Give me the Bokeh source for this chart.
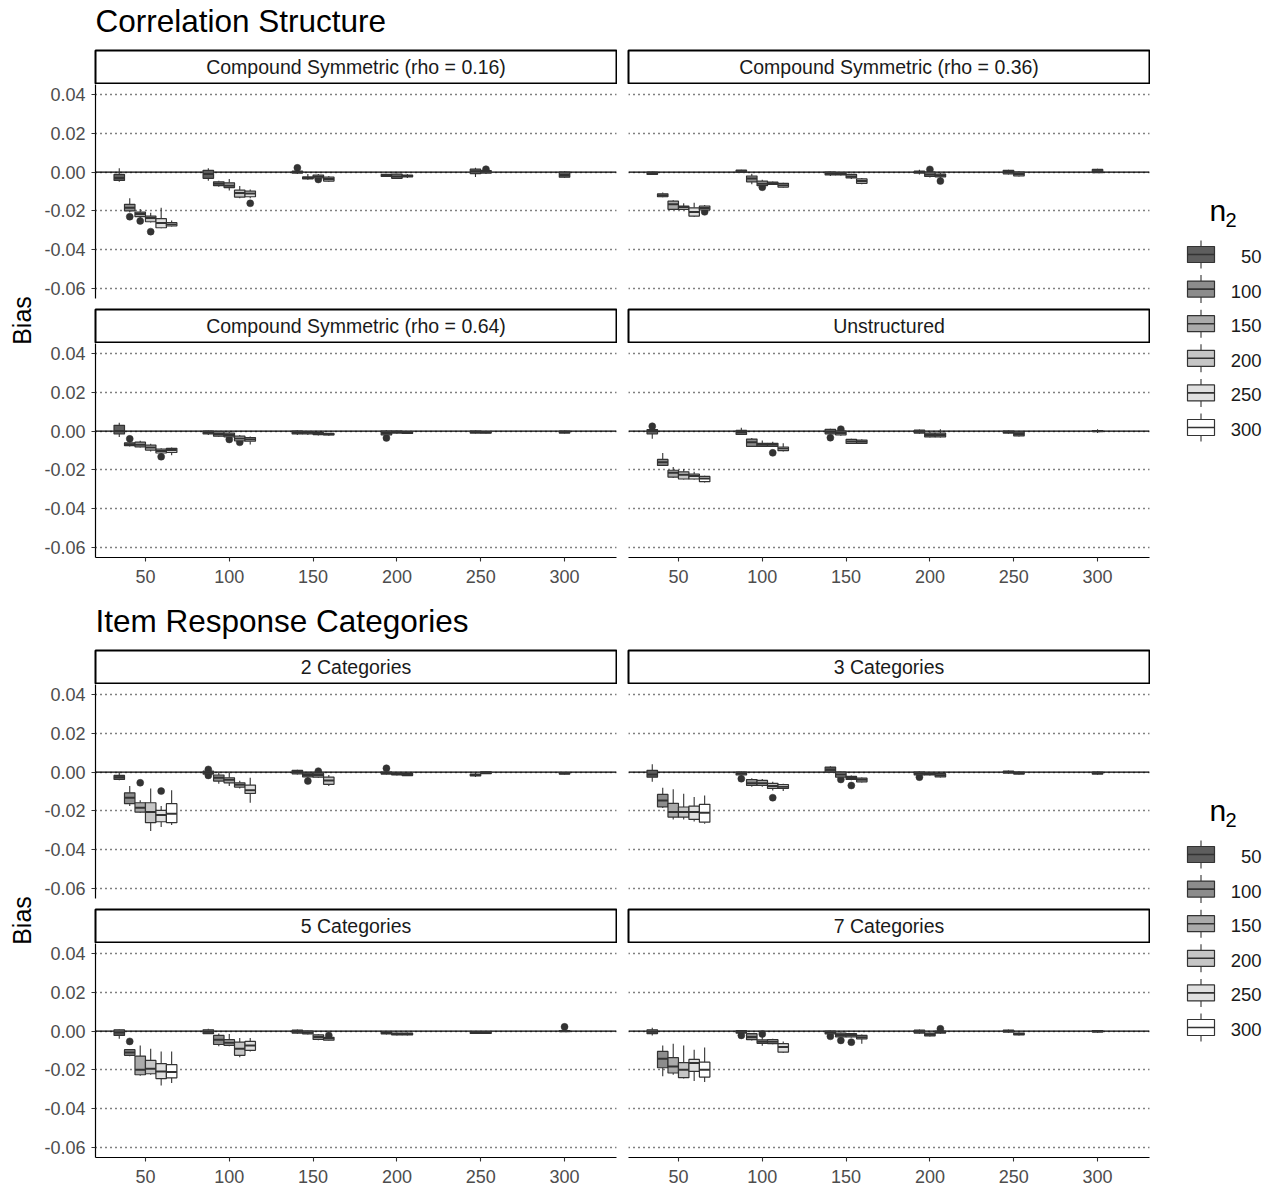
import math
from bokeh.plotting import figure
from bokeh.layouts import row, column
from bokeh.models import Range1d, FixedTicker, PrintfTickFormatter, Span, Grid, ColumnDataSource
from bokeh.core.properties import value
from bokeh.embed import file_html
from bokeh.resources import INLINE

# ---------------- data ----------------
N1 = [50, 100, 150, 200, 250, 300]
N2 = [50, 100, 150, 200, 250, 300]
N2_LABELS = ["50", "100", "150", "200", "250", "300"]
FILLS = ["#5e5e5e", "#8c8c8c", "#aaaaaa", "#c6c6c6", "#e0e0e0", "#ffffff"]
Y_TICKS = [-0.06, -0.04, -0.02, 0.0, 0.02, 0.04]
X_TICKS = [50, 100, 150, 200, 250, 300]

SECTION_TITLES = ["Correlation Structure", "Item Response Categories"]
FACET_LABELS = [
    ["Compound Symmetric (rho = 0.16)", "Compound Symmetric (rho = 0.36)",
     "Compound Symmetric (rho = 0.64)", "Unstructured"],
    ["2 Categories", "3 Categories", "5 Categories", "7 Categories"],
]

# each box: (lower whisker, q1, median, q3, upper whisker); order n1 then n2 (n1 + n2 <= 350)
CS016 = [
    (-0.0050, -0.0043, -0.0030, -0.0012, 0.0020),
    (-0.0207, -0.0200, -0.0184, -0.0166, -0.0135),
    (-0.0240, -0.0230, -0.0216, -0.0206, -0.0190),
    (-0.0260, -0.0256, -0.0237, -0.0227, -0.0210),
    (-0.0290, -0.0287, -0.0263, -0.0240, -0.0184),
    (-0.0280, -0.0278, -0.0270, -0.0261, -0.0250),
    (-0.0045, -0.0032, -0.0010, 0.0009, 0.0020),
    (-0.0075, -0.0070, -0.0060, -0.0050, -0.0045),
    (-0.0095, -0.0080, -0.0070, -0.0055, -0.0036),
    (-0.0135, -0.0129, -0.0108, -0.0093, -0.0072),
    (-0.0135, -0.0127, -0.0110, -0.0098, -0.0090),
    (-0.0010, -0.0005, 0.0000, 0.0005, 0.0010),
    (-0.0040, -0.0035, -0.0030, -0.0025, -0.0010),
    (-0.0035, -0.0030, -0.0022, -0.0015, -0.0010),
    (-0.0050, -0.0046, -0.0036, -0.0026, -0.0020),
    (-0.0025, -0.0022, -0.0017, -0.0012, -0.0010),
    (-0.0035, -0.0032, -0.0022, -0.0010, -0.0008),
    (-0.0030, -0.0025, -0.0020, -0.0015, -0.0010),
    (-0.0025, -0.0008, 0.0005, 0.0015, 0.0022),
    (-0.0010, -0.0005, 0.0002, 0.0008, 0.0010),
    (-0.0030, -0.0026, -0.0015, 0.0000, 0.0005),
]
CS016_OUT = [(50, 100, -0.0230), (50, 150, -0.0252), (50, 200, -0.0307), (100, 250, -0.0161),
             (150, 50, 0.0022), (150, 150, -0.0038), (250, 100, 0.0015)]

CS036 = [
    (-0.0015, -0.0012, -0.0005, 0.0000, 0.0003),
    (-0.0130, -0.0127, -0.0120, -0.0112, -0.0105),
    (-0.0195, -0.0192, -0.0166, -0.0150, -0.0145),
    (-0.0195, -0.0192, -0.0180, -0.0175, -0.0160),
    (-0.0230, -0.0227, -0.0206, -0.0184, -0.0158),
    (-0.0198, -0.0195, -0.0185, -0.0175, -0.0170),
    (-0.0002, 0.0000, 0.0005, 0.0010, 0.0012),
    (-0.0062, -0.0050, -0.0033, -0.0020, -0.0009),
    (-0.0075, -0.0070, -0.0060, -0.0046, -0.0040),
    (-0.0066, -0.0063, -0.0058, -0.0052, -0.0048),
    (-0.0080, -0.0077, -0.0068, -0.0058, -0.0055),
    (-0.0020, -0.0015, -0.0008, 0.0000, 0.0003),
    (-0.0018, -0.0015, -0.0010, -0.0003, 0.0000),
    (-0.0035, -0.0030, -0.0022, -0.0012, -0.0008),
    (-0.0062, -0.0058, -0.0046, -0.0035, -0.0030),
    (-0.0012, -0.0005, 0.0000, 0.0005, 0.0012),
    (-0.0028, -0.0022, -0.0012, 0.0000, 0.0005),
    (-0.0030, -0.0025, -0.0018, -0.0010, -0.0005),
    (-0.0012, -0.0009, 0.0000, 0.0009, 0.0012),
    (-0.0023, -0.0020, -0.0010, 0.0000, 0.0003),
    (-0.0005, -0.0003, 0.0005, 0.0014, 0.0018),
]
CS036_OUT = [(50, 300, -0.0205), (100, 150, -0.0078), (200, 100, 0.0014), (200, 150, -0.0046)]

CS064 = [
    (-0.0030, -0.0015, 0.0000, 0.0030, 0.0043),
    (-0.0080, -0.0075, -0.0068, -0.0060, -0.0055),
    (-0.0085, -0.0081, -0.0070, -0.0057, -0.0050),
    (-0.0105, -0.0098, -0.0085, -0.0072, -0.0065),
    (-0.0118, -0.0113, -0.0103, -0.0093, -0.0088),
    (-0.0124, -0.0110, -0.0098, -0.0089, -0.0085),
    (-0.0020, -0.0015, -0.0008, 0.0000, 0.0003),
    (-0.0030, -0.0026, -0.0015, -0.0003, 0.0000),
    (-0.0035, -0.0030, -0.0020, -0.0010, -0.0005),
    (-0.0053, -0.0050, -0.0038, -0.0026, -0.0020),
    (-0.0069, -0.0052, -0.0042, -0.0033, -0.0028),
    (-0.0020, -0.0015, -0.0008, 0.0000, 0.0004),
    (-0.0020, -0.0015, -0.0009, -0.0003, 0.0000),
    (-0.0022, -0.0018, -0.0013, -0.0008, -0.0005),
    (-0.0024, -0.0020, -0.0016, -0.0012, -0.0010),
    (-0.0025, -0.0020, -0.0010, 0.0000, 0.0005),
    (-0.0013, -0.0010, -0.0005, 0.0000, 0.0003),
    (-0.0015, -0.0012, -0.0008, -0.0003, 0.0000),
    (-0.0012, -0.0010, -0.0005, 0.0000, 0.0003),
    (-0.0012, -0.0010, -0.0006, -0.0002, 0.0000),
    (-0.0012, -0.0010, -0.0005, 0.0000, 0.0003),
]
CS064_OUT = [(50, 100, -0.0040), (50, 250, -0.0132), (100, 150, -0.0043), (100, 200, -0.0058),
             (200, 50, -0.0035)]

UNSTR = [
    (-0.0040, -0.0015, 0.0000, 0.0008, 0.0015),
    (-0.0180, -0.0177, -0.0160, -0.0146, -0.0113),
    (-0.0240, -0.0237, -0.0215, -0.0202, -0.0185),
    (-0.0250, -0.0247, -0.0225, -0.0210, -0.0195),
    (-0.0250, -0.0247, -0.0232, -0.0222, -0.0210),
    (-0.0265, -0.0261, -0.0245, -0.0234, -0.0230),
    (-0.0020, -0.0017, -0.0005, 0.0004, 0.0018),
    (-0.0082, -0.0079, -0.0058, -0.0041, -0.0035),
    (-0.0082, -0.0079, -0.0070, -0.0063, -0.0048),
    (-0.0082, -0.0079, -0.0070, -0.0063, -0.0055),
    (-0.0105, -0.0101, -0.0090, -0.0082, -0.0063),
    (-0.0018, -0.0014, -0.0003, 0.0009, 0.0012),
    (-0.0024, -0.0020, -0.0010, 0.0000, 0.0002),
    (-0.0066, -0.0064, -0.0053, -0.0043, -0.0040),
    (-0.0066, -0.0064, -0.0055, -0.0046, -0.0042),
    (-0.0013, -0.0010, -0.0002, 0.0005, 0.0008),
    (-0.0033, -0.0030, -0.0020, -0.0010, -0.0005),
    (-0.0033, -0.0030, -0.0020, -0.0010, 0.0010),
    (-0.0013, -0.0010, -0.0005, 0.0000, 0.0003),
    (-0.0028, -0.0025, -0.0015, -0.0005, -0.0002),
    (-0.0010, -0.0003, 0.0000, 0.0003, 0.0010),
]
UNSTR_OUT = [(50, 50, 0.0025), (100, 200, -0.0112), (150, 50, -0.0034), (150, 100, 0.0010)]

CAT2 = [
    (-0.0042, -0.0038, -0.0027, -0.0017, 0.0000),
    (-0.0175, -0.0163, -0.0132, -0.0107, -0.0072),
    (-0.0210, -0.0206, -0.0184, -0.0158, -0.0145),
    (-0.0304, -0.0261, -0.0206, -0.0158, -0.0084),
    (-0.0283, -0.0256, -0.0221, -0.0197, -0.0175),
    (-0.0273, -0.0261, -0.0215, -0.0163, -0.0094),
    (-0.0012, -0.0010, -0.0003, 0.0005, 0.0008),
    (-0.0060, -0.0046, -0.0029, -0.0015, -0.0005),
    (-0.0072, -0.0055, -0.0040, -0.0029, -0.0005),
    (-0.0085, -0.0077, -0.0065, -0.0055, -0.0045),
    (-0.0158, -0.0110, -0.0093, -0.0067, -0.0029),
    (-0.0012, -0.0009, 0.0000, 0.0009, 0.0012),
    (-0.0030, -0.0025, -0.0015, -0.0005, 0.0000),
    (-0.0030, -0.0026, -0.0015, -0.0005, -0.0002),
    (-0.0072, -0.0063, -0.0043, -0.0026, -0.0015),
    (-0.0012, -0.0010, -0.0005, 0.0000, 0.0003),
    (-0.0018, -0.0015, -0.0010, -0.0005, -0.0002),
    (-0.0020, -0.0018, -0.0012, -0.0006, -0.0003),
    (-0.0025, -0.0020, -0.0015, -0.0010, -0.0005),
    (-0.0010, -0.0008, -0.0003, 0.0002, 0.0005),
    (-0.0012, -0.0010, -0.0006, -0.0002, 0.0000),
]
CAT2_OUT = [(50, 150, -0.0055), (50, 250, -0.0098), (100, 50, 0.0014), (100, 50, -0.0017),
            (150, 100, -0.0046), (150, 150, 0.0005), (200, 50, 0.0020)]

CAT3 = [
    (-0.0050, -0.0026, -0.0012, 0.0009, 0.0040),
    (-0.0185, -0.0179, -0.0146, -0.0115, -0.0081),
    (-0.0245, -0.0232, -0.0206, -0.0161, -0.0089),
    (-0.0245, -0.0232, -0.0206, -0.0180, -0.0112),
    (-0.0255, -0.0244, -0.0206, -0.0175, -0.0129),
    (-0.0266, -0.0258, -0.0210, -0.0166, -0.0120),
    (-0.0020, -0.0015, -0.0006, 0.0000, 0.0003),
    (-0.0075, -0.0069, -0.0058, -0.0038, -0.0031),
    (-0.0075, -0.0069, -0.0058, -0.0043, -0.0035),
    (-0.0095, -0.0084, -0.0072, -0.0058, -0.0050),
    (-0.0098, -0.0084, -0.0075, -0.0064, -0.0060),
    (-0.0003, 0.0000, 0.0012, 0.0026, 0.0030),
    (-0.0030, -0.0026, -0.0012, 0.0000, 0.0003),
    (-0.0042, -0.0038, -0.0030, -0.0022, -0.0018),
    (-0.0053, -0.0050, -0.0040, -0.0031, -0.0028),
    (-0.0018, -0.0015, -0.0007, 0.0000, 0.0003),
    (-0.0018, -0.0015, -0.0010, -0.0005, -0.0002),
    (-0.0028, -0.0025, -0.0016, -0.0008, -0.0005),
    (-0.0008, -0.0005, 0.0000, 0.0005, 0.0008),
    (-0.0012, -0.0010, -0.0005, 0.0000, 0.0003),
    (-0.0013, -0.0010, -0.0005, 0.0000, 0.0003),
]
CAT3_OUT = [(100, 50, -0.0034), (100, 200, -0.0132), (150, 100, -0.0038), (150, 150, -0.0069),
            (200, 50, -0.0026)]

CAT5 = [
    (-0.0039, -0.0022, -0.0007, 0.0007, 0.0010),
    (-0.0130, -0.0125, -0.0110, -0.0096, -0.0092),
    (-0.0230, -0.0225, -0.0199, -0.0129, -0.0074),
    (-0.0225, -0.0220, -0.0194, -0.0151, -0.0091),
    (-0.0280, -0.0245, -0.0208, -0.0168, -0.0105),
    (-0.0268, -0.0241, -0.0211, -0.0173, -0.0105),
    (-0.0015, -0.0013, -0.0003, 0.0007, 0.0012),
    (-0.0078, -0.0069, -0.0044, -0.0022, -0.0012),
    (-0.0078, -0.0074, -0.0060, -0.0044, -0.0015),
    (-0.0135, -0.0125, -0.0091, -0.0057, -0.0035),
    (-0.0105, -0.0099, -0.0074, -0.0053, -0.0035),
    (-0.0013, -0.0010, -0.0002, 0.0005, 0.0008),
    (-0.0018, -0.0015, -0.0008, 0.0000, 0.0003),
    (-0.0047, -0.0043, -0.0030, -0.0019, -0.0015),
    (-0.0050, -0.0047, -0.0038, -0.0032, -0.0030),
    (-0.0018, -0.0015, -0.0010, -0.0005, -0.0002),
    (-0.0023, -0.0020, -0.0015, -0.0010, -0.0007),
    (-0.0023, -0.0020, -0.0015, -0.0010, -0.0007),
    (-0.0015, -0.0012, -0.0008, -0.0004, -0.0002),
    (-0.0015, -0.0012, -0.0008, -0.0004, -0.0002),
    (-0.0005, -0.0003, 0.0000, 0.0003, 0.0005),
]
CAT5_OUT = [(50, 100, -0.0053), (150, 200, -0.0022), (300, 50, 0.0022)]

CAT7 = [
    (-0.0022, -0.0013, -0.0003, 0.0007, 0.0017),
    (-0.0233, -0.0189, -0.0142, -0.0105, -0.0074),
    (-0.0225, -0.0216, -0.0182, -0.0137, -0.0065),
    (-0.0245, -0.0240, -0.0199, -0.0163, -0.0074),
    (-0.0257, -0.0208, -0.0164, -0.0146, -0.0096),
    (-0.0263, -0.0237, -0.0199, -0.0160, -0.0085),
    (-0.0013, -0.0010, -0.0003, 0.0003, 0.0006),
    (-0.0048, -0.0044, -0.0030, -0.0013, -0.0010),
    (-0.0075, -0.0063, -0.0055, -0.0045, -0.0030),
    (-0.0068, -0.0065, -0.0055, -0.0044, -0.0040),
    (-0.0112, -0.0108, -0.0082, -0.0065, -0.0054),
    (-0.0018, -0.0015, -0.0007, 0.0000, 0.0003),
    (-0.0033, -0.0030, -0.0020, -0.0010, -0.0007),
    (-0.0033, -0.0030, -0.0020, -0.0013, -0.0010),
    (-0.0065, -0.0040, -0.0031, -0.0022, -0.0018),
    (-0.0013, -0.0010, -0.0002, 0.0005, 0.0008),
    (-0.0028, -0.0025, -0.0018, -0.0010, -0.0007),
    (-0.0013, -0.0010, -0.0005, 0.0000, 0.0003),
    (-0.0008, -0.0005, 0.0000, 0.0005, 0.0008),
    (-0.0023, -0.0020, -0.0015, -0.0010, -0.0007),
    (-0.0008, -0.0005, 0.0000, 0.0003, 0.0006),
]
CAT7_OUT = [(100, 50, -0.0022), (100, 150, -0.0015), (150, 50, -0.0027), (150, 100, -0.0048),
            (150, 150, -0.0057), (200, 150, 0.0012)]

SECTIONS = [
    [(CS016, CS016_OUT), (CS036, CS036_OUT), (CS064, CS064_OUT), (UNSTR, UNSTR_OUT)],
    [(CAT2, CAT2_OUT), (CAT3, CAT3_OUT), (CAT5, CAT5_OUT), (CAT7, CAT7_OUT)],
]

# ---------------- style / layout ----------------
FONT = "Liberation Sans"
BOX_W = 6.25          # data units of one dodged box
X_RANGE = (20.2, 331.0)
Y_RANGE = (-0.0652, 0.0452)
LEFT_W, RIGHT_W, BIAS_W, LEG_W = 577, 533, 40, 123
LEFT_BORDER, RIGHT_BORDER = 55, 11
FRAME_H = 214
OUTLINE = "#333333"
SMALL = "18px"


def hide_grids(p):
    for g in list(p.xgrid) + list(p.ygrid):
        g.visible = False


def dodge_x(a, b):
    k = len(N2) - a
    return N1[a] + (b - (k - 1) / 2.0) * BOX_W


def style_axis(ax):
    ax.axis_line_color = "black"
    ax.axis_line_width = 1.2
    ax.major_tick_line_color = "#333333"
    ax.major_tick_line_width = 1.1
    ax.major_tick_out = 4
    ax.major_tick_in = 0
    ax.minor_tick_line_color = None
    ax.major_label_text_font = FONT
    ax.major_label_text_font_size = SMALL
    ax.major_label_text_color = "#4d4d4d"


def panel(stats, outs, left, bottom, height, bottom_border):
    p = figure(width=LEFT_W if left else RIGHT_W, height=height,
               x_range=Range1d(*X_RANGE), y_range=Range1d(*Y_RANGE),
               output_backend="svg", toolbar_location=None, title=None,
               x_axis_location="below" if bottom else None,
               y_axis_location="left" if left else None,
               min_border_left=LEFT_BORDER if left else RIGHT_BORDER, min_border_right=0,
               min_border_top=0, min_border_bottom=bottom_border)
    p.outline_line_color = None
    p.background_fill_color = "white"
    p.border_fill_color = "white"
    hide_grids(p)
    grid = Grid(dimension=1, ticker=FixedTicker(ticks=Y_TICKS), grid_line_color="black",
                grid_line_dash="1 4", grid_line_width=1.6)
    p.add_layout(grid)
    zero = Span(location=0, dimension="width", line_color="black", line_width=1.3, level="underlay")
    p.add_layout(zero)
    if left:
        ax = p.yaxis[0]
        ax.ticker = FixedTicker(ticks=Y_TICKS)
        ax.formatter = PrintfTickFormatter(format="%.2f")
        style_axis(ax)
        ax.major_label_standoff = 6
    if bottom:
        ax = p.xaxis[0]
        ax.ticker = FixedTicker(ticks=X_TICKS)
        style_axis(ax)
        ax.major_label_standoff = 8

    xs, lo, q1, med, q3, hi, fill, x0, x1 = [], [], [], [], [], [], [], [], []
    i = 0
    for a in range(len(N1)):
        for b in range(len(N2) - a):
            s = stats[i]
            i += 1
            x = dodge_x(a, b)
            xs.append(x)
            lo.append(s[0]); q1.append(s[1]); med.append(s[2]); q3.append(s[3]); hi.append(s[4])
            fill.append(FILLS[b])
            x0.append(x - BOX_W / 2.0); x1.append(x + BOX_W / 2.0)
    src = ColumnDataSource(dict(x=xs, lo=lo, q1=q1, med=med, q3=q3, hi=hi, fill=fill, x0=x0, x1=x1))

    ox = [dodge_x(N1.index(o[0]), N2.index(o[1])) for o in outs]
    oy = [o[2] for o in outs]
    p.scatter(x=ox, y=oy, size=7, color=OUTLINE, line_width=0.5)
    p.segment(x0="x", y0="q3", x1="x", y1="hi", source=src, line_color=OUTLINE, line_width=1.1)
    p.segment(x0="x", y0="q1", x1="x", y1="lo", source=src, line_color=OUTLINE, line_width=1.1)
    p.vbar(x="x", width=BOX_W, top="q3", bottom="q1", source=src, fill_color="fill",
           line_color=OUTLINE, line_width=1.2)
    p.segment(x0="x0", y0="med", x1="x1", y1="med", source=src, line_color=OUTLINE, line_width=2.0)
    return p


def strip(label, left):
    p = figure(width=LEFT_W if left else RIGHT_W, height=35,
               x_range=Range1d(0, 1), y_range=Range1d(0, 1),
               output_backend="svg", toolbar_location=None, title=None,
               x_axis_location=None, y_axis_location=None,
               min_border_left=(LEFT_BORDER - 1) if left else (RIGHT_BORDER - 1),
               min_border_right=1, min_border_top=1, min_border_bottom=1)
    hide_grids(p)
    p.outline_line_color = "black"
    p.outline_line_width = 2
    p.text(x=[0.5], y=[0.5], text=[label], text_align="center", text_baseline="middle",
           text_font=value(FONT), text_font_size="19.5px", text_color="#1a1a1a")
    return p


def blank(width, height):
    p = figure(width=width, height=height, x_range=Range1d(0, width), y_range=Range1d(0, height),
               output_backend="svg", toolbar_location=None, title=None,
               x_axis_location=None, y_axis_location=None,
               min_border_left=0, min_border_right=0, min_border_top=0, min_border_bottom=0)
    hide_grids(p)
    p.outline_line_color = None
    return p


def header(text, height, center_from_top):
    p = blank(LEFT_W + RIGHT_W + BIAS_W + LEG_W, height)
    p.text(x=[BIAS_W + LEFT_BORDER], y=[height - center_from_top], text=[text], text_align="left",
           text_baseline="middle", text_font=value(FONT), text_font_size="31.5px",
           text_color="black")
    return p


def legend_fig(height):
    p = blank(LEG_W, height)
    top = height
    p.text(x=[59], y=[top - 161], text=["n"], text_align="left", text_baseline="middle",
           text_font=value(FONT), text_font_size="30px", text_color="black")
    p.text(x=[75], y=[top - 170], text=["2"], text_align="left", text_baseline="middle",
           text_font=value(FONT), text_font_size="20px", text_color="black")
    cy = [top - 205 - 34.6 * j for j in range(len(N2))]
    p.segment(x0=[50.5] * 6, x1=[50.5] * 6, y0=[c + 14 for c in cy], y1=[c - 14 for c in cy],
              line_color=OUTLINE, line_width=1.1)
    p.quad(left=[37] * 6, right=[64] * 6, top=[c + 8 for c in cy], bottom=[c - 8 for c in cy],
           fill_color=FILLS, line_color=OUTLINE, line_width=1.2)
    p.segment(x0=[37] * 6, x1=[64] * 6, y0=cy, y1=cy, line_color=OUTLINE, line_width=1.6)
    p.text(x=[111] * 6, y=[c - 2 for c in cy], text=N2_LABELS, text_align="right",
           text_baseline="middle", text_font=value(FONT), text_font_size="18.5px",
           text_color="#1a1a1a")
    return p


def bias_fig(height):
    p = blank(BIAS_W, height)
    p.text(x=[21], y=[height - 271], text=["Bias"], angle=math.pi / 2, text_align="center",
           text_baseline="middle", text_font=value(FONT), text_font_size="25px", text_color="black")
    return p


def section(si, head_h, title_center, last_bottom):
    facets = SECTIONS[si]
    labels = FACET_LABELS[si]
    row2_h = FRAME_H + last_bottom
    total_h = 35 + FRAME_H + 10 + 35 + row2_h
    lcol = column(strip(labels[0], True),
                  panel(*facets[0], True, False, FRAME_H + 10, 10),
                  strip(labels[2], True),
                  panel(*facets[2], True, True, row2_h, last_bottom))
    rcol = column(strip(labels[1], False),
                  panel(*facets[1], False, False, FRAME_H + 10, 10),
                  strip(labels[3], False),
                  panel(*facets[3], False, True, row2_h, last_bottom))
    body = row(bias_fig(total_h), lcol, rcol, legend_fig(total_h))
    return column(header(SECTION_TITLES[si], head_h, title_center), body)


# section 1: rows end at 557, axis area to 591; section 2 header 591..649
page = column(section(0, 49, 20, 34), section(1, 58, 29, 31))
open("out.html", "w").write(file_html(page, INLINE, title="Bias"))
